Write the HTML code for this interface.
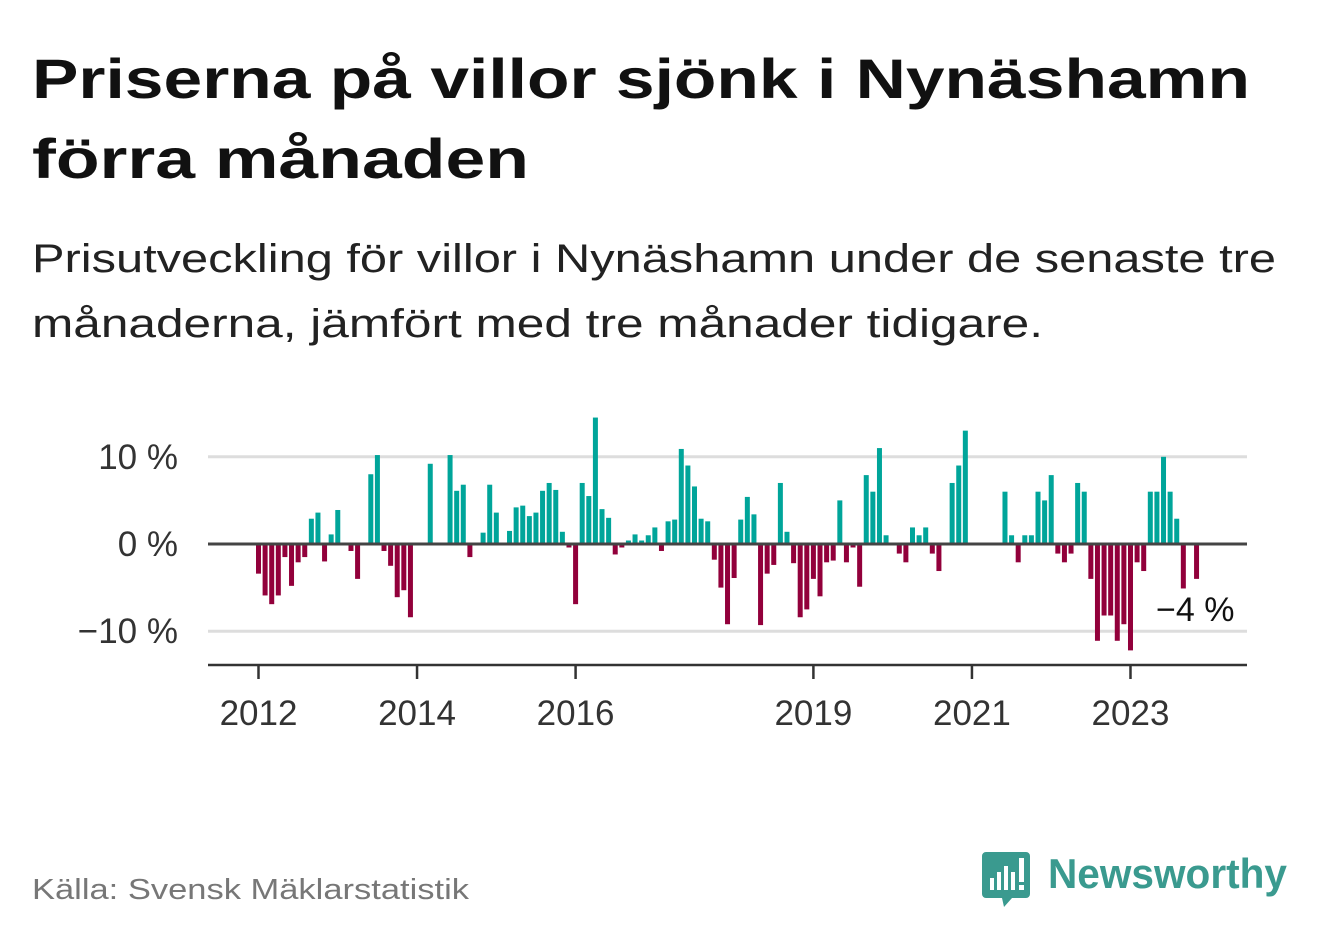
<!DOCTYPE html>
<html><head><meta charset="utf-8"><style>
html,body{margin:0;padding:0;background:#fff;}
svg{display:block;font-family:"Liberation Sans",sans-serif;}
</style></head><body>
<svg width="1322" height="939" viewBox="0 0 1322 939">
<text x="32" y="98" font-size="56" font-weight="bold" fill="#111" textLength="1218" lengthAdjust="spacingAndGlyphs">Priserna på villor sjönk i Nynäshamn</text>
<text x="32" y="178" font-size="56" font-weight="bold" fill="#111" textLength="497" lengthAdjust="spacingAndGlyphs">förra månaden</text>
<text x="32" y="272" font-size="40" fill="#222" textLength="1244" lengthAdjust="spacingAndGlyphs">Prisutveckling för villor i Nynäshamn under de senaste tre</text>
<text x="32" y="337" font-size="40" fill="#222" textLength="1011" lengthAdjust="spacingAndGlyphs">månaderna, jämfört med tre månader tidigare.</text>
<g id="plot"></g>
<text x="32" y="899" font-size="29" fill="#777" textLength="437" lengthAdjust="spacingAndGlyphs">Källa: Svensk Mäklarstatistik</text>
<g>
<path d="M986 852 h40 a4 4 0 0 1 4 4 v38 a4 4 0 0 1 -4 4 h-14 l-8 9 l-2 -9 h-16 a4 4 0 0 1 -4 -4 v-38 a4 4 0 0 1 4 -4z" fill="#3a9a8f"/>
<rect x="990" y="878" width="4" height="12" fill="#fff"/>
<rect x="997" y="872" width="4" height="18" fill="#fff"/>
<rect x="1004" y="866" width="4" height="24" fill="#fff"/>
<rect x="1011" y="872" width="4" height="18" fill="#fff"/>
<rect x="1019" y="858" width="5" height="24" fill="#fff"/>
<rect x="1019" y="885" width="5" height="5" fill="#fff"/>
<text x="1048" y="888" font-size="42" font-weight="bold" fill="#3a9a8f" textLength="239" lengthAdjust="spacingAndGlyphs">Newsworthy</text>
</g>
</svg>
<script>
const values = [-3.4,-5.9,-6.9,-5.9,-1.5,-4.8,-2.1,-1.5,2.9,3.6,-2.0,1.1,3.9,0,-0.8,-4.0,0,8.0,10.2,-0.8,-2.5,-6.1,-5.3,-8.4,
0,0,9.2,0,0,10.2,6.1,6.8,-1.5,0,1.3,6.8,3.6,0,1.5,4.2,4.4,3.2,3.6,6.1,7.0,6.2,1.4,-0.4,
-6.9,7.0,5.5,14.5,4.0,3.0,-1.2,-0.4,0.4,1.1,0.4,1.0,1.9,-0.8,2.6,2.8,10.9,9.0,6.6,2.9,2.6,-1.8,
-5.0,-9.2,-3.9,2.8,5.4,3.4,-9.3,-3.4,-2.4,7.0,1.4,-2.2,-8.4,-7.5,-4.0,-6.0,-2.1,-1.9,5.0,-2.1,
-0.4,-4.9,7.9,6.0,11.0,1.0,0,-1.1,-2.1,1.9,1.0,1.9,-1.1,-3.1,0,7.0,9.0,13.0,0,0,0,0,0,6.0,1.0,
-2.1,1.0,1.0,6.0,5.0,7.9,-1.1,-2.1,-1.1,7.0,6.0,-4.0,-11.1,-8.2,-8.2,-11.1,-9.2,-12.2,-2.1,-3.1,
6.0,6.0,10.0,6.0,2.9,-5.1,0,-4.0];
const yTicks = [10,0,-10];
const yTickLabels = ["10 %","0 %","\u221210 %"];
const xTickYears = [2012,2014,2016,2019,2021,2023];
const startYear = 2012;
const lastLabel = "\u22124 %";

const NS="http://www.w3.org/2000/svg";
const g=document.getElementById('plot');
const X0=258.5, MW=6.606, Y0=544, PPU=8.72;
const xScale=i=>X0+i*MW;
const yScale=v=>Y0-v*PPU;
function mk(t,a){const e=document.createElementNS(NS,t);for(const k in a)e.setAttribute(k,a[k]);g.appendChild(e);return e;}
yTicks.forEach((t,k)=>{
  if(t!==0){const l=mk('line',{x1:208,x2:1247,y1:yScale(t),y2:yScale(t),stroke:'#ddd','stroke-width':3});
  
  }
  const tx=mk('text',{x:178,y:yScale(t)+12,'font-size':35,fill:'#333','text-anchor':'end'});
  tx.textContent=yTickLabels[k];
  
  
});
values.forEach((v,i)=>{
  if(v===0)return;
  const y=yScale(Math.max(v,0)), h=Math.abs(v)*PPU;
  const r=mk('rect',{x:xScale(i)-2.5,y:y,width:5,height:h,fill:v>0?'#00a59a':'#92003b'});
  
  
});
const z=mk('line',{x1:208,x2:1247,y1:Y0,y2:Y0,stroke:'#444','stroke-width':3});


const ax=mk('line',{x1:208,x2:1247,y1:665,y2:665,stroke:'#333','stroke-width':2.5});


xTickYears.forEach(yr=>{
  const x=xScale((yr-startYear)*12);
  const tk=mk('line',{x1:x,x2:x,y1:665,y2:679,stroke:'#333','stroke-width':2.5});
  
  
  const tx=mk('text',{x:x,y:725,'font-size':35,fill:'#333','text-anchor':'middle'});
  tx.textContent=String(yr);
  
  
});
const last=values.length-1;
const lab=mk('text',{x:1156,y:yScale(values[last])+42,'font-size':34,fill:'#111'});
lab.textContent=lastLabel;


</script>
</body></html>
